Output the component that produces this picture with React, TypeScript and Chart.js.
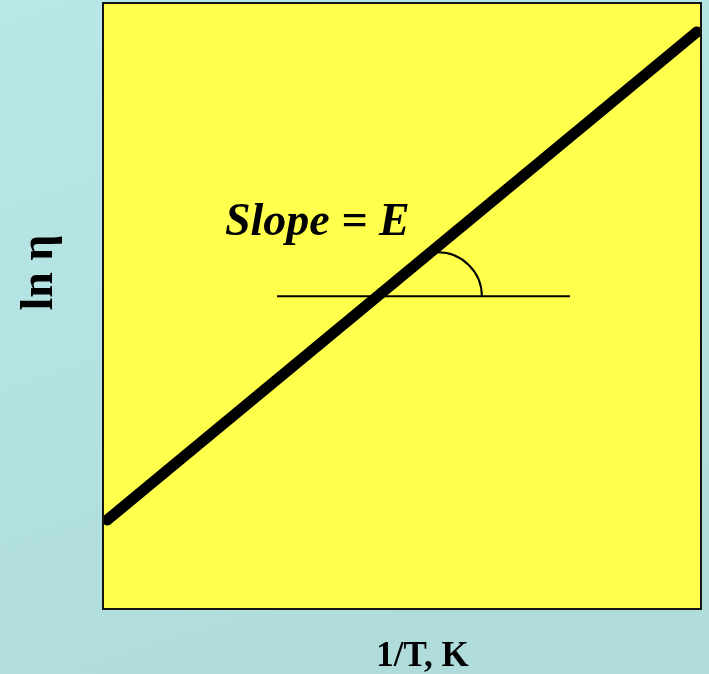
import React, { useEffect, useRef } from "react";
import { Chart, registerables } from "chart.js";

Chart.register(...registerables);

// Arrhenius-type plot: ln η vs 1/T (arbitrary units)
const invTemp = [0.07, 9.93];
const lnEta = [1.47, 9.52];
const refLineX = [2.91, 7.81];
const refLineY = [5.16, 5.16];
const angleCenter = [5.6, 5.16];
const angleRadiusX = 0.736;
const annotationText = "Slope = E";
const xTitle = "1/T, K";
const yTitle = "ln η";

const decorPlugin = {
  id: "decor",
  beforeDraw(chart: any) {
    const { ctx, width, height, chartArea } = chart;
    ctx.save();
    const g = ctx.createLinearGradient(0, 0, width * 0.3, height);
    g.addColorStop(0, "#B9E7E7");
    g.addColorStop(1, "#B0DCDC");
    ctx.fillStyle = g;
    ctx.fillRect(0, 0, width, height);
    ctx.fillStyle = "#FFFF4C";
    ctx.fillRect(chartArea.left, chartArea.top, chartArea.right - chartArea.left, chartArea.bottom - chartArea.top);
    ctx.restore();
  },
  afterDatasetsDraw(chart: any) {
    const { ctx, chartArea, scales } = chart;
    const xs = scales.x;
    const ys = scales.y;
    ctx.save();
    // angle arc
    const cx = xs.getPixelForValue(angleCenter[0]);
    const cy = ys.getPixelForValue(angleCenter[1]);
    const r = xs.getPixelForValue(angleCenter[0] + angleRadiusX) - cx;
    ctx.beginPath();
    ctx.arc(cx, cy, r, -Math.PI / 2, 0);
    ctx.lineWidth = 2;
    ctx.strokeStyle = "#000";
    ctx.stroke();
    // frame
    ctx.lineWidth = 2;
    ctx.strokeStyle = "#151515";
    ctx.strokeRect(chartArea.left, chartArea.top, chartArea.right - chartArea.left, chartArea.bottom - chartArea.top);
    // annotation
    ctx.fillStyle = "#000";
    ctx.font = 'bold italic 46px "Liberation Serif", "Times New Roman", serif';
    ctx.textAlign = "left";
    ctx.textBaseline = "alphabetic";
    ctx.fillText(annotationText, xs.getPixelForValue(2.04), ys.getPixelForValue(6.17));
    // x title
    ctx.font = 'bold 35px "Liberation Serif", "Times New Roman", serif';
    ctx.textAlign = "center";
    ctx.fillText(xTitle, 422.5, 666);
    // y title
    ctx.translate(52, 272.5);
    ctx.rotate(-Math.PI / 2);
    ctx.font = 'bold 46px "Liberation Serif", "Times New Roman", serif';
    ctx.textAlign = "center";
    ctx.fillText(yTitle, 0, 0);
    ctx.restore();
  },
};

export default function App() {
  const ref = useRef<HTMLCanvasElement | null>(null);
  useEffect(() => {
    document.body.style.margin = "0";
    const canvas = ref.current;
    if (!canvas) return;
    const chart = new Chart(canvas, {
      type: "scatter",
      data: {
        datasets: [
          {
            data: invTemp.map((x, i) => ({ x, y: lnEta[i] })),
            showLine: true,
            borderColor: "#000",
            backgroundColor: "#000",
            borderWidth: 11,
            borderCapStyle: "round",
            pointRadius: 0,
          },
          {
            data: refLineX.map((x, i) => ({ x, y: refLineY[i] })),
            showLine: true,
            borderColor: "#000",
            backgroundColor: "#000",
            borderWidth: 2,
            pointRadius: 0,
          },
        ],
      },
      options: {
        animation: false,
        responsive: false,
        layout: { padding: { left: 103, top: 3, right: 8, bottom: 65 } },
        plugins: { legend: { display: false }, tooltip: { enabled: false } },
        scales: {
          x: { type: "linear", min: 0, max: 10, display: false },
          y: { type: "linear", min: 0, max: 10, display: false },
        },
      },
      plugins: [decorPlugin],
    } as any);
    return () => chart.destroy();
  }, []);
  return (
    <div style={{ width: 709, height: 674 }}>
      <canvas ref={ref} width={709} height={674} />
    </div>
  );
}
